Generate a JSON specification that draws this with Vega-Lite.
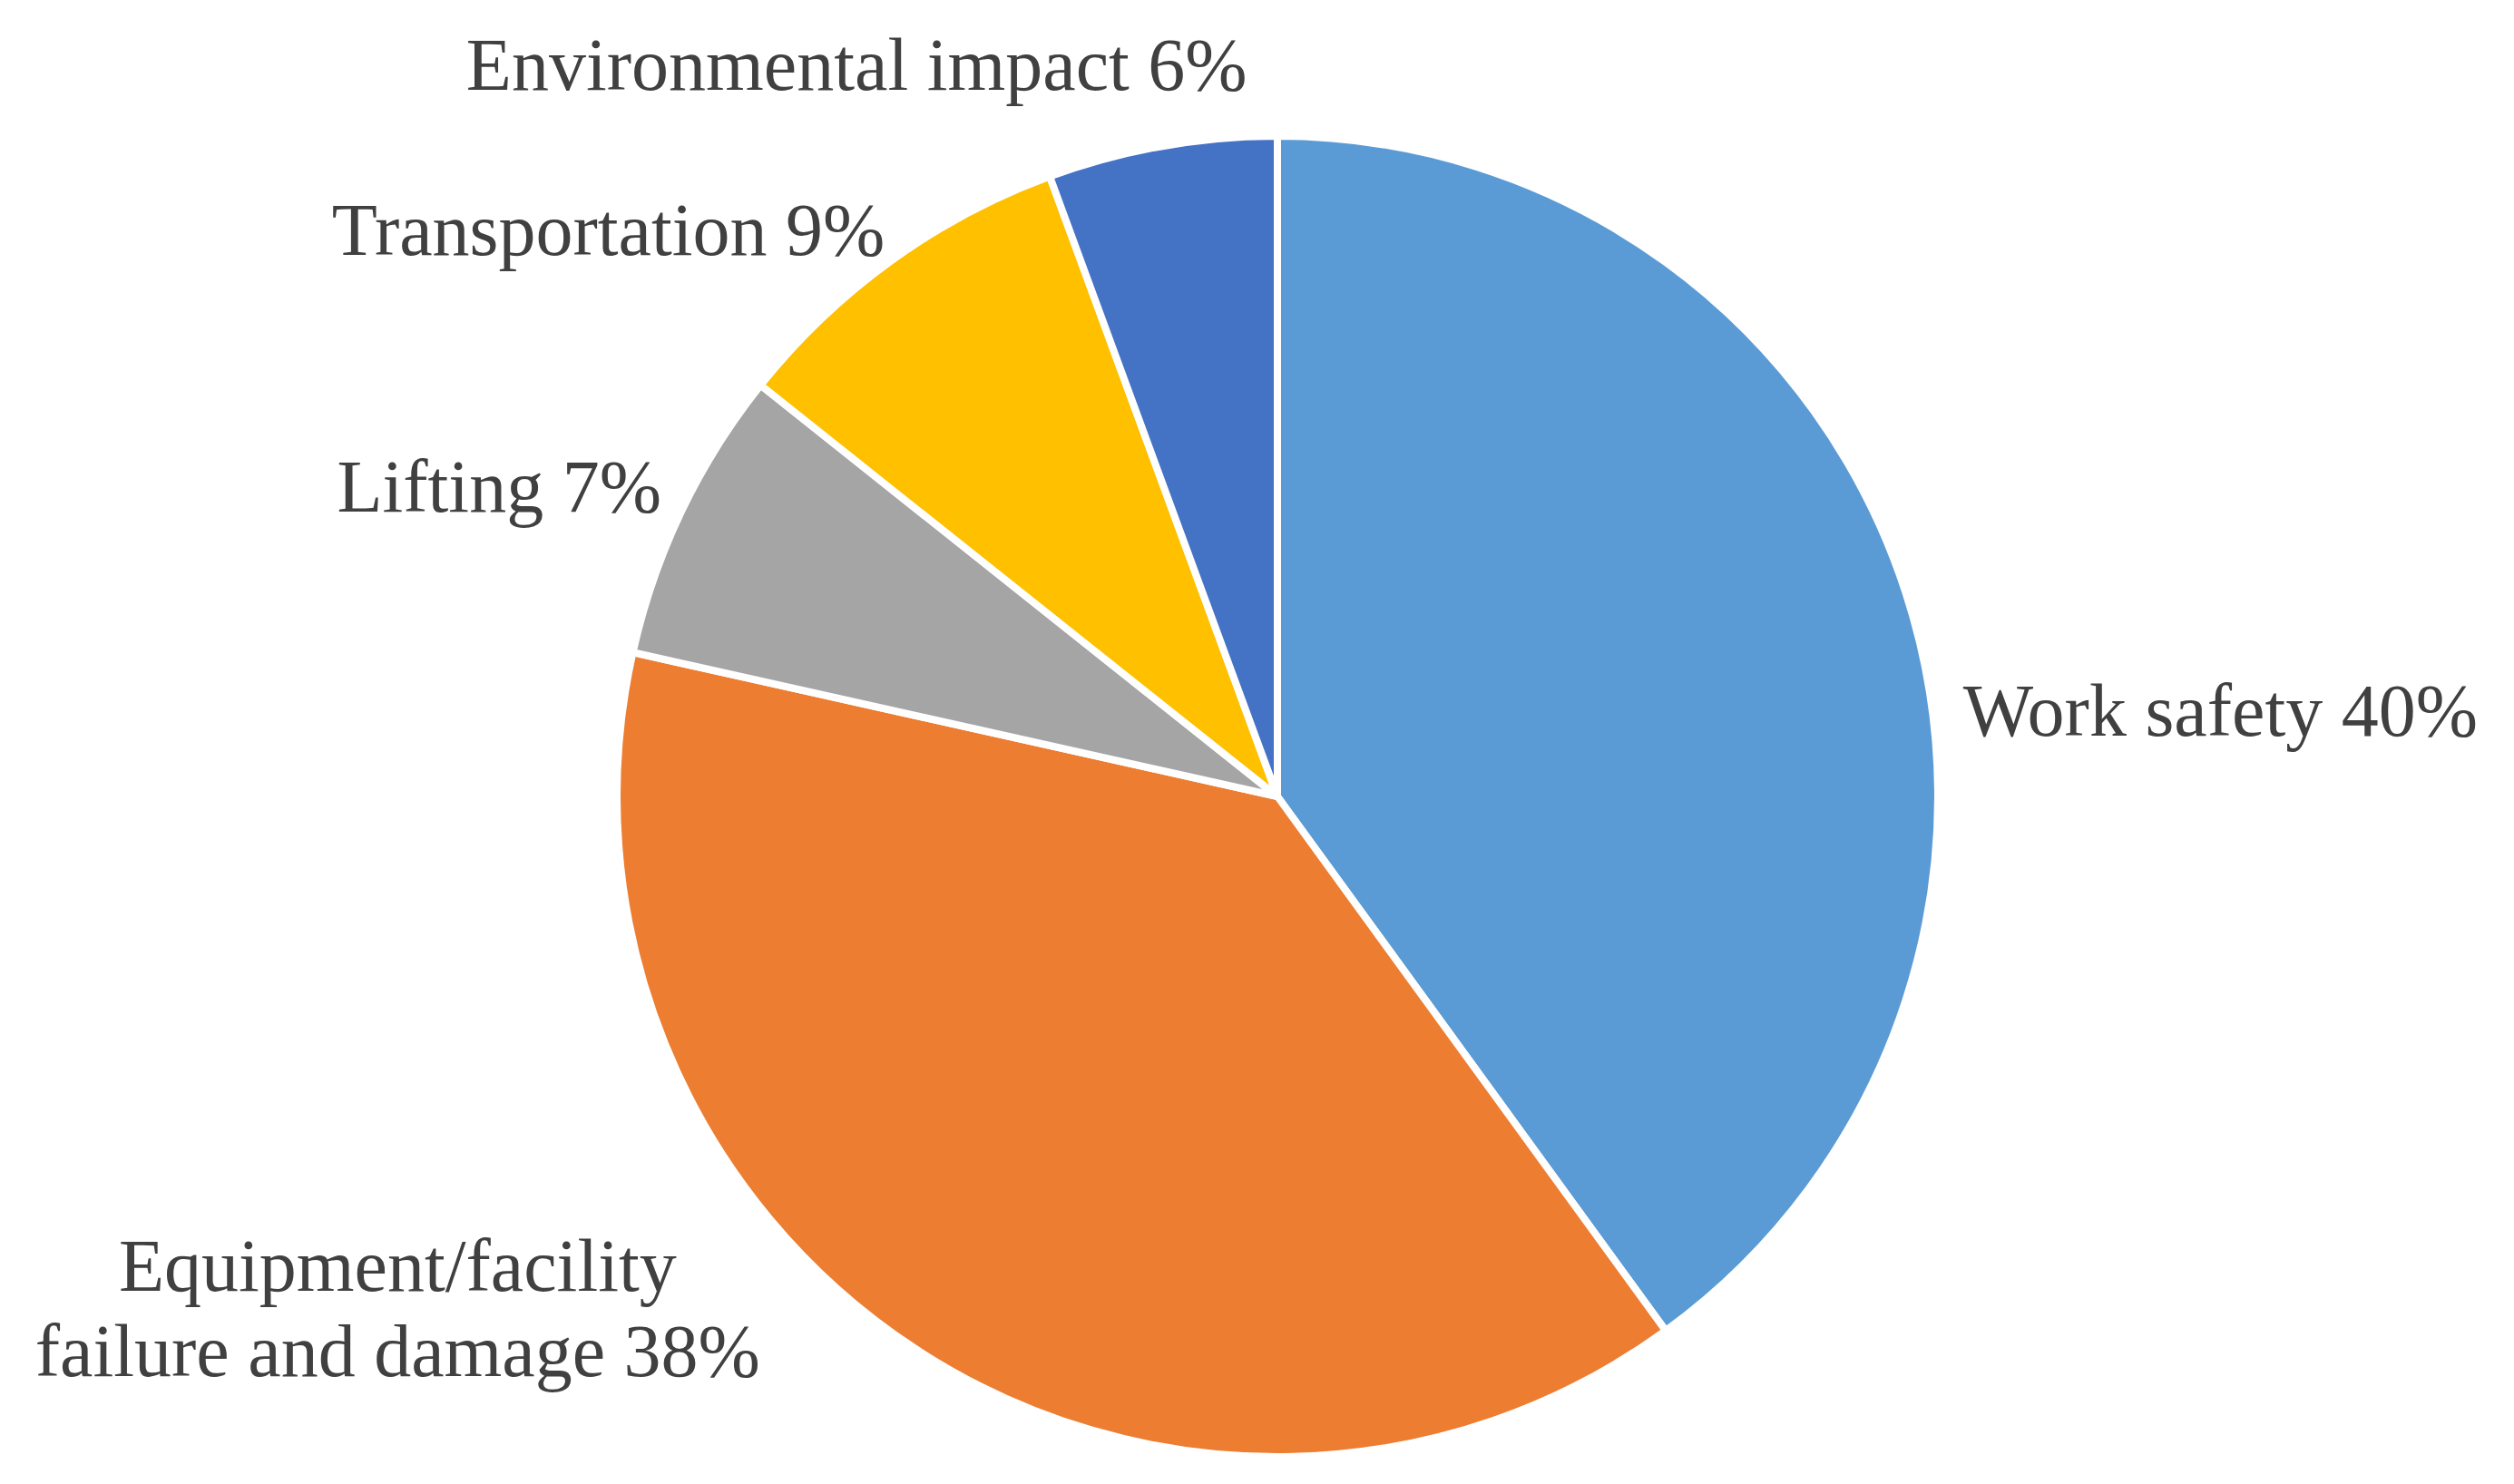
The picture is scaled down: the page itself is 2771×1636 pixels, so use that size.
{
  "$schema": "https://vega.github.io/schema/vega-lite/v6.json",
  "autosize": {"type": "none"},
  "width": 2726,
  "height": 1516,
  "padding": {"left": 45, "top": 120, "right": 0, "bottom": 0},
  "background": "white",
  "config": {"view": {"stroke": null}},
  "data": {
    "values": [
      {"category": "Work safety", "value": 40.0, "order": 1, "label": "Work safety 40%"},
      {"category": "Equipment/facility failure and damage", "value": 38.5, "order": 2, "label": "Equipment/facility\nfailure and damage 38%"},
      {"category": "Lifting", "value": 7.2, "order": 3, "label": "Lifting  7%"},
      {"category": "Transportation", "value": 8.7, "order": 4, "label": "Transportation 9%"},
      {"category": "Environmental impact", "value": 5.6, "order": 5, "label": "Environmental  impact 6%"}
    ]
  },
  "encoding": {
    "theta": {"field": "value", "type": "quantitative", "stack": true},
    "order": {"field": "order", "type": "quantitative", "sort": "ascending"}
  },
  "layer": [
    {
      "mark": {"type": "arc", "outerRadius": 728, "stroke": "white", "strokeWidth": 8},
      "encoding": {
        "color": {
          "field": "category",
          "type": "nominal",
          "legend": null,
          "scale": {
            "domain": ["Work safety", "Equipment/facility failure and damage", "Lifting", "Transportation", "Environmental impact"],
            "range": ["#5B9BD5", "#ED7D31", "#A5A5A5", "#FFC000", "#4472C4"]
          }
        }
      }
    },
    {
      "mark": {"type": "text", "radius": 850, "dx": 231, "dy": 171, "align": "center", "baseline": "middle", "font": "Liberation Serif", "fontSize": 82, "color": "#404040"},
      "encoding": {"text": {"condition": {"test": "datum.category === 'Work safety'", "field": "label"}, "value": ""}}
    },
    {
      "mark": {"type": "text", "radius": 850, "dx": -503, "dy": -190, "align": "center", "baseline": "middle", "lineBreak": "\n", "lineHeight": 94, "font": "Liberation Serif", "fontSize": 82, "color": "#404040"},
      "encoding": {"text": {"condition": {"test": "datum.category === 'Equipment/facility failure and damage'", "field": "label"}, "value": ""}}
    },
    {
      "mark": {"type": "text", "radius": 850, "dx": -91, "dy": 28, "align": "center", "baseline": "middle", "font": "Liberation Serif", "fontSize": 82, "color": "#404040"},
      "encoding": {"text": {"condition": {"test": "datum.category === 'Lifting'", "field": "label"}, "value": ""}}
    },
    {
      "mark": {"type": "text", "radius": 850, "dx": -240, "dy": 67, "align": "center", "baseline": "middle", "font": "Liberation Serif", "fontSize": 82, "color": "#404040"},
      "encoding": {"text": {"condition": {"test": "datum.category === 'Transportation'", "field": "label"}, "value": ""}}
    },
    {
      "mark": {"type": "text", "radius": 850, "dx": -315, "dy": 33, "align": "center", "baseline": "middle", "font": "Liberation Serif", "fontSize": 82, "color": "#404040"},
      "encoding": {"text": {"condition": {"test": "datum.category === 'Environmental impact'", "field": "label"}, "value": ""}}
    }
  ]
}
